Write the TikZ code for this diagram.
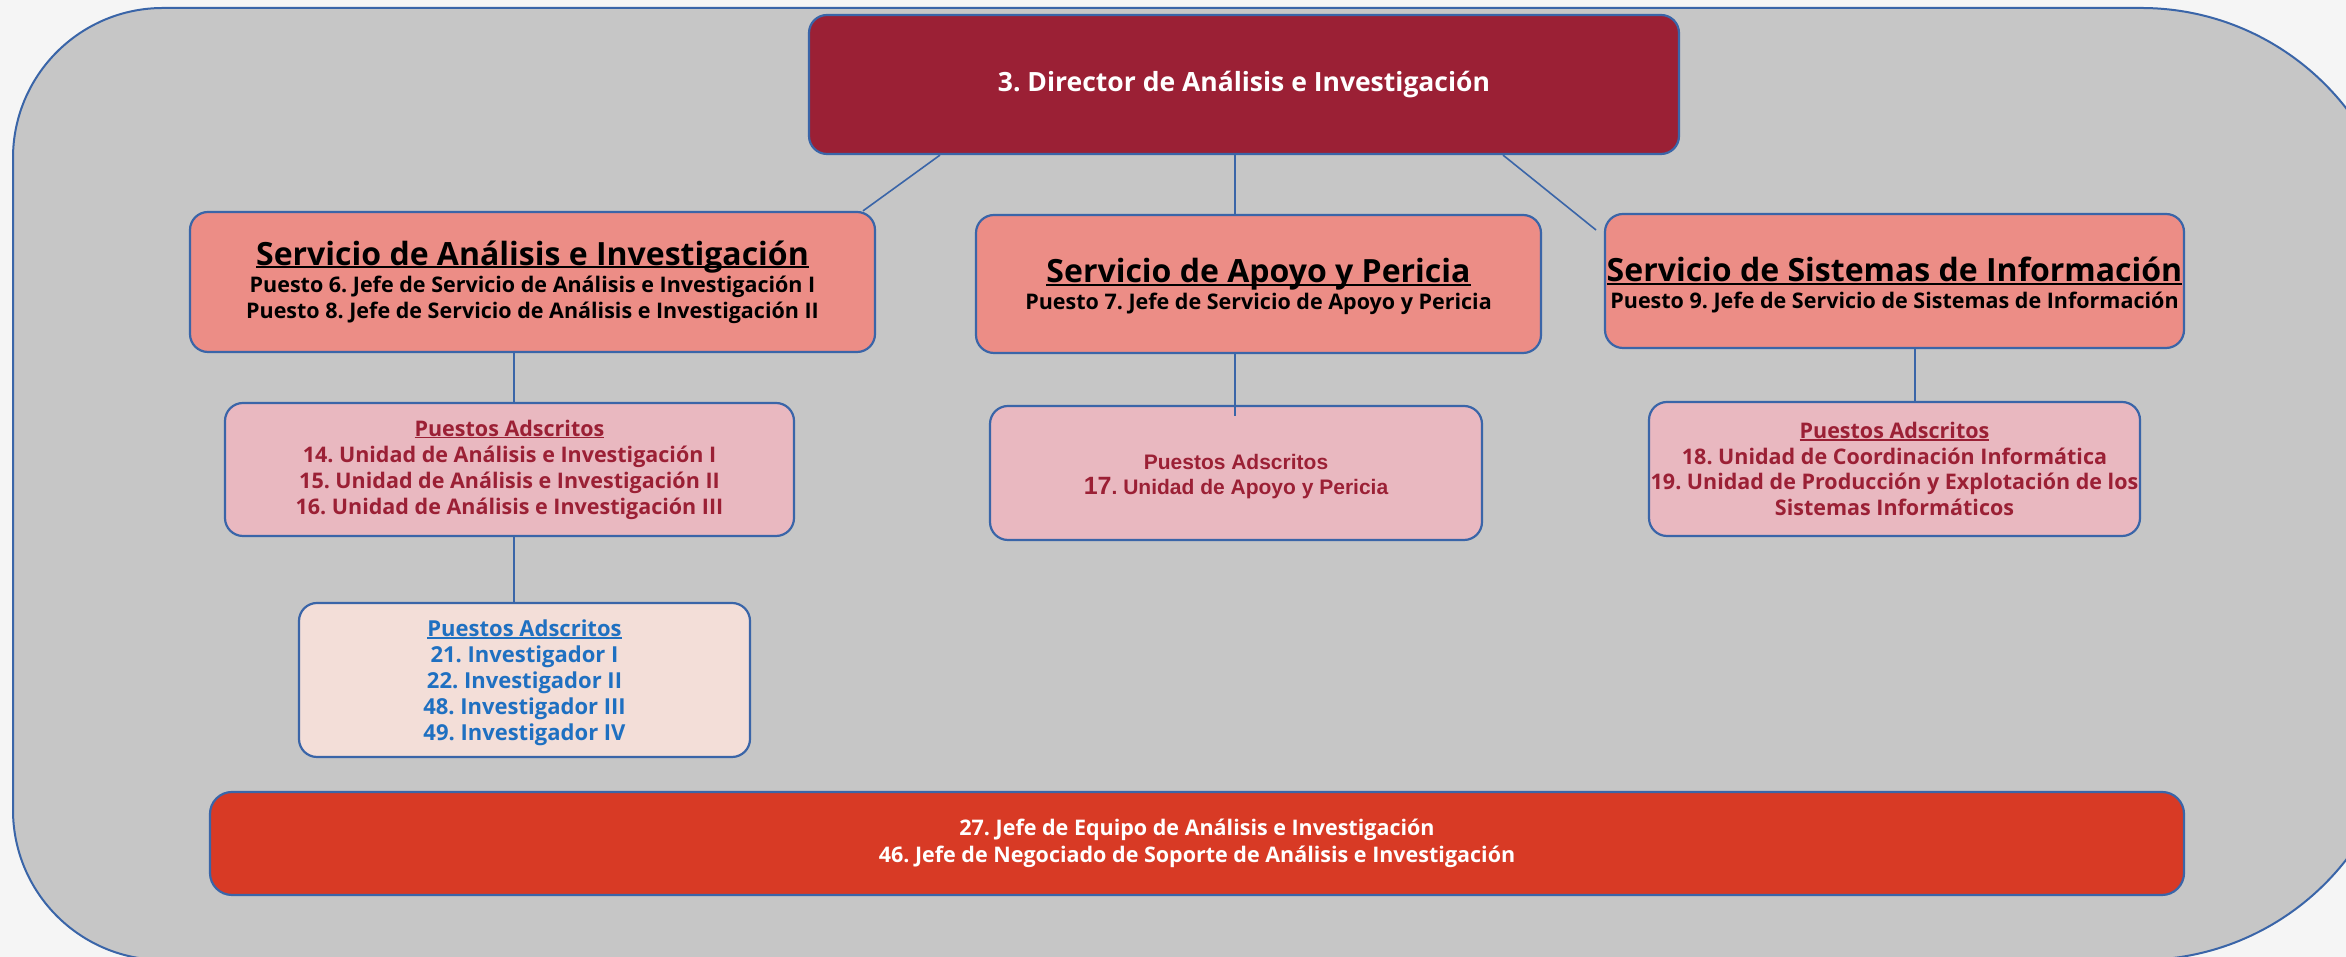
\documentclass[tikz,border=0pt]{standalone}
\usepackage{fontspec}
\setmainfont{Open Sans}
\newfontfamily\arialfont{Liberation Sans}
\frenchspacing
\definecolor{pagebg}{HTML}{F5F5F5}
\definecolor{outerc}{HTML}{C6C6C6}
\definecolor{bord}{HTML}{3A65A8}
\definecolor{dirc}{HTML}{9B2035}
\definecolor{servc}{HTML}{EC8D86}
\definecolor{adsc}{HTML}{E9B8C0}
\definecolor{invc}{HTML}{F3DED8}
\definecolor{botc}{HTML}{D83A25}
\definecolor{adred}{HTML}{9B2035}
\definecolor{invblue}{HTML}{1F70C1}
\newcommand{\myul}[1]{\setbox0=\hbox{#1}\rlap{\rule[-0.1em]{\wd0}{0.075em}}\box0}
\newcommand{\nolsl}{\lineskiplimit=-100pt\relax}
\newcommand{\topstrut}[1]{\rule{0pt}{#1}}
\begin{document}
\begin{tikzpicture}[x=1pt,y=1pt,
  box/.style={draw=bord, line width=2.2pt, rounded corners=18pt, inner sep=0pt, align=center,
    font=\bfseries\fontsize{21.5}{26}\selectfont\nolsl\frenchspacing},
  conn/.style={draw=bord, line width=1.6pt}]
\useasboundingbox (0,0) rectangle (2346,957);
\clip (0,0) rectangle (2346,957);
\fill[pagebg] (0,0) rectangle (2346,957);
\filldraw[fill=outerc, draw=bord, line width=2pt]
  (13,147) -- (13,799) arc[start angle=180, end angle=90, radius=150pt]
  -- (2141,949) arc[start angle=90, end angle=0, radius=260pt]
  -- (2401,257) arc[start angle=0, end angle=-90, radius=260pt]
  -- (163,-3) arc[start angle=270, end angle=180, radius=150pt] -- cycle;

% nodes
\node[box, fill=dirc, text=white, minimum width=870pt, minimum height=139pt,
  font=\bfseries\fontsize{26.5}{30}\selectfont\frenchspacing] (D) at (1244,872.5)
  {3. Director de Análisis e Investigación};

\node[box, fill=servc, text=black, minimum width=685pt, minimum height=140pt] (S1) at (532.5,675)
  {{\fontsize{32}{32}\selectfont\myul{Servicio de Análisis e Investigación}}\\[1pt]
   Puesto 6. Jefe de Servicio de Análisis e Investigación I\\
   Puesto 8. Jefe de Servicio de Análisis e Investigación II};

\node[box, fill=servc, text=black, minimum width=565pt, minimum height=138pt] (S2) at (1258.5,673)
  {{\fontsize{32}{32}\selectfont\topstrut{30pt}\myul{Servicio de Apoyo y Pericia}}\\[1pt]
   Puesto 7. Jefe de Servicio de Apoyo y Pericia};

\node[box, fill=servc, text=black, minimum width=579pt, minimum height=134pt] (S3) at (1894.5,676)
  {{\fontsize{32}{32}\selectfont\topstrut{33pt}\myul{Servicio de Sistemas de Información}}\\[1pt]
   Puesto 9. Jefe de Servicio de Sistemas de Información};

\node[box, fill=adsc, text=adred, minimum width=569pt, minimum height=133pt] (A1) at (509.5,487.5)
  {\myul{Puestos Adscritos}\\
   14. Unidad de Análisis e Investigación I\\
   15. Unidad de Análisis e Investigación II\\
   16. Unidad de Análisis e Investigación III};

\node[box, fill=adsc, text=adred, minimum width=492pt, minimum height=134pt,
  font=\arialfont\bfseries\fontsize{21}{25}\selectfont\frenchspacing] (A2) at (1236,484)
  {\topstrut{23pt}Puestos Adscritos\\
   {\fontsize{25}{25}\selectfont 17}. Unidad de Apoyo y Pericia};

\node[box, fill=adsc, text=adred, minimum width=491pt, minimum height=134pt,
  font=\bfseries\fontsize{21.5}{25.5}\selectfont\nolsl\frenchspacing] (A3) at (1894.5,488)
  {\myul{Puestos Adscritos}\\
   18. Unidad de Coordinación Informática\\
   19. Unidad de Producción y Explotación de los\\
   Sistemas Informáticos};

\node[box, fill=invc, text=invblue, minimum width=451pt, minimum height=154pt,
  font=\bfseries\fontsize{22}{26}\selectfont\nolsl\frenchspacing] (INV) at (524.5,277)
  {\topstrut{22.5pt}\myul{Puestos Adscritos}\\
   21. Investigador I\\
   22. Investigador II\\
   48. Investigador III\\
   49. Investigador IV};

\node[box, fill=botc, text=white, minimum width=1974pt, minimum height=103pt, rounded corners=22pt,
  font=\bfseries\fontsize{21.5}{27}\selectfont\nolsl\frenchspacing] (BOT) at (1197,113.5)
  {27. Jefe de Equipo de Análisis e Investigación\\
   46. Jefe de Negociado de Soporte de Análisis e Investigación};

% connector anchors
\coordinate (xa) at (940,0);
\coordinate (xb) at (863,0);
\coordinate (xc) at (1503,0);
\coordinate (e3) at (1596,727);
\coordinate (c1) at (514,0);
\coordinate (c2) at (1235,0);
\coordinate (c3) at (1915,0);

\draw[conn] (D.south -| xa) -- (S1.north -| xb);
\draw[conn] (D.south -| c2) -- (S2.north -| c2);
\draw[conn] (D.south -| xc) -- (e3);
\draw[conn] (S1.south -| c1) -- (A1.north -| c1);
\draw[conn] (A1.south -| c1) -- (INV.north -| c1);
\draw[conn] (S2.south -| c2) -- ++(0,-62);
\draw[conn] (S3.south -| c3) -- (A3.north -| c3);
\end{tikzpicture}
\end{document}
